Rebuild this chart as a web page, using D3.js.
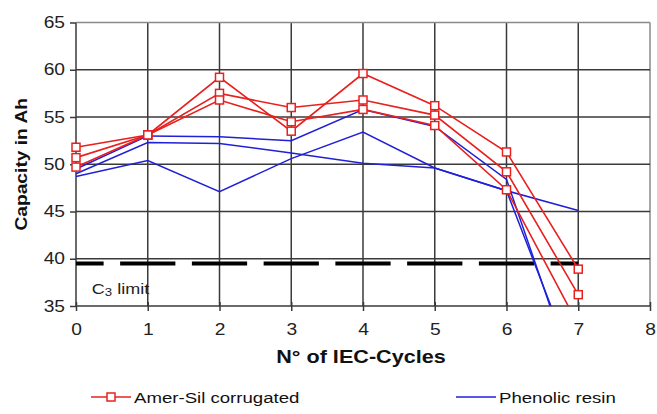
<!DOCTYPE html>
<html><head><meta charset="utf-8">
<script src="https://cdn.jsdelivr.net/npm/d3@7"></script>
<style>
body{margin:0;background:#fff;}
svg{display:block;font-family:"Liberation Sans",Arial,sans-serif;}
</style></head>
<body>
<svg id="chart" width="657" height="414"></svg>
<script>
const cycles = [0,1,2,3,4,5,6,7];
const amerSil1 = [49.7,53.1,59.2,53.5,59.6,56.2,51.3,38.9];
const amerSil2 = [51.8,53.1,57.5,56.0,56.8,55.2,49.2,36.2];
const amerSil3 = [50.7,53.1,56.8,54.5,55.8,54.1,47.3,33.0];
const phenolic1 = [49.5,53.0,52.9,52.5,55.8,54.0,48.4,26.3];
const phenolic2 = [48.7,50.4,47.1,50.6,53.4,49.6,47.2,27.5];
const phenolic3 = [49.0,52.3,52.2,51.2,50.1,49.6,47.2,45.1];
const c3Limit = 39.5;
const xTicks = [0,1,2,3,4,5,6,7,8];
const yTicks = [35,40,45,50,55,60,65];
const legendLabels = ["Amer-Sil corrugated","Phenolic resin"];

const RED = "#e8201e", BLUE = "#2020d8";
const STRETCH = 1.2;
const svg = d3.select("#chart");
const L=76, R=650, T=22.5, B=306;
const x = d3.scaleLinear().domain([0,8]).range([L,R]);
const y = d3.scaleLinear().domain([35,65]).range([B,T]);

// grid
const g = svg.append("g");
g.selectAll(".vg").data(xTicks).enter().append("line")
  .attr("x1",d=>x(d)).attr("x2",d=>x(d)).attr("y1",T).attr("y2",B)
  .attr("stroke",d=>d===8?"#8a8a8a":"#3a3a3a").attr("stroke-width",1.5);
g.selectAll(".hg").data(yTicks).enter().append("line")
  .attr("x1",L).attr("x2",R).attr("y1",d=>y(d)).attr("y2",d=>y(d))
  .attr("stroke",d=>d===65?"#8a8a8a":"#3a3a3a").attr("stroke-width",1.5);

// axes
const xAxis = svg.append("g").attr("transform",`translate(0,${B})`)
  .call(d3.axisBottom(x).tickValues(xTicks).tickSize(5).tickPadding(13).tickFormat(d3.format("d")));
xAxis.select(".domain").remove();
xAxis.selectAll("line").attr("stroke","#3a3a3a").attr("stroke-width",1.5).attr("y1",-4);
xAxis.selectAll("text").attr("font-size",16).attr("fill","#222");
const yAxis = svg.append("g").attr("transform",`translate(${L},0)`)
  .call(d3.axisLeft(y).tickValues(yTicks).tickSize(6).tickPadding(5).tickFormat(d3.format("d")));
yAxis.select(".domain").remove();
yAxis.selectAll("line").attr("stroke","#3a3a3a").attr("stroke-width",1.5);
yAxis.selectAll("text").attr("font-size",16).attr("fill","#222");

// clip
svg.append("clipPath").attr("id","plot").append("rect")
  .attr("x",L-6).attr("y",T-6).attr("width",R-L+12).attr("height",B-T+6);

// C3 limit dashed line
const unit = x(1)-x(0);
svg.append("line").attr("x1",x(0)).attr("x2",x(7)).attr("y1",y(c3Limit)).attr("y2",y(c3Limit))
  .attr("stroke","#000").attr("stroke-width",4)
  .attr("stroke-dasharray",`${unit*0.77} ${unit*0.23}`)
  .attr("stroke-dashoffset",unit*0.385);
const c3 = svg.append("text").attr("x",x(0.22)).attr("y",y(36.3)).attr("font-size",15).attr("fill","#222");
c3.append("tspan").text("C");
c3.append("tspan").attr("font-size",11).attr("dy",2).text("3");
c3.append("tspan").attr("dy",-2).text(" limit");

const line = d3.line().x((d,i)=>x(cycles[i])).y(d=>y(d));
const plot = svg.append("g").attr("clip-path","url(#plot)");
[phenolic1,phenolic2,phenolic3].forEach(s=>{
  plot.append("path").attr("d",line(s)).attr("fill","none").attr("stroke",BLUE).attr("stroke-width",1.5);
});
const markerClip = svg.append("g").attr("clip-path","url(#plot)");
[amerSil1,amerSil2,amerSil3].forEach(s=>{
  plot.append("path").attr("d",line(s)).attr("fill","none").attr("stroke",RED).attr("stroke-width",1.6);
});
[amerSil1,amerSil2,amerSil3].forEach(s=>{
  const pts = s.map((v,i)=>({c:cycles[i],v})).filter(p=>p.v>=35);
  markerClip.selectAll(null).data(pts).enter().append("rect")
    .attr("x",p=>x(p.c)-4).attr("y",p=>y(p.v)-4)
    .attr("width",8).attr("height",8).attr("fill","#fff").attr("stroke",RED).attr("stroke-width",1.5);
});

// titles
svg.append("text").attr("x",(L+R)/2-2).attr("y",363).attr("text-anchor","middle")
  .attr("font-size",18).attr("font-weight","bold").attr("fill","#111").text("N° of IEC-Cycles");
svg.append("text").attr("transform",`translate(27,${(T+B)/2}) rotate(-90)`).attr("text-anchor","middle")
  .attr("font-size",16).attr("font-weight","bold").attr("fill","#111").text("Capacity in Ah");

// legend
const lg = svg.append("g");
lg.append("line").attr("x1",91).attr("x2",131).attr("y1",397).attr("y2",397).attr("stroke",RED).attr("stroke-width",1.6);
lg.append("rect").attr("x",107).attr("y",393).attr("width",8).attr("height",8).attr("fill","#fff").attr("stroke",RED).attr("stroke-width",1.5);
lg.append("text").attr("x",134).attr("y",403).attr("font-size",15.5).attr("fill","#111").text(legendLabels[0]);
lg.append("line").attr("x1",456).attr("x2",496).attr("y1",397).attr("y2",397).attr("stroke",BLUE).attr("stroke-width",1.6);
lg.append("text").attr("x",499).attr("y",403).attr("font-size",15.5).attr("fill","#111").text(legendLabels[1]);

// horizontal stretch of text to match the reference's wider glyphs
svg.selectAll("text").each(function(){
  const len = this.getComputedTextLength();
  d3.select(this).attr("textLength",len*STRETCH).attr("lengthAdjust","spacingAndGlyphs");
});
</script>
</body></html>
